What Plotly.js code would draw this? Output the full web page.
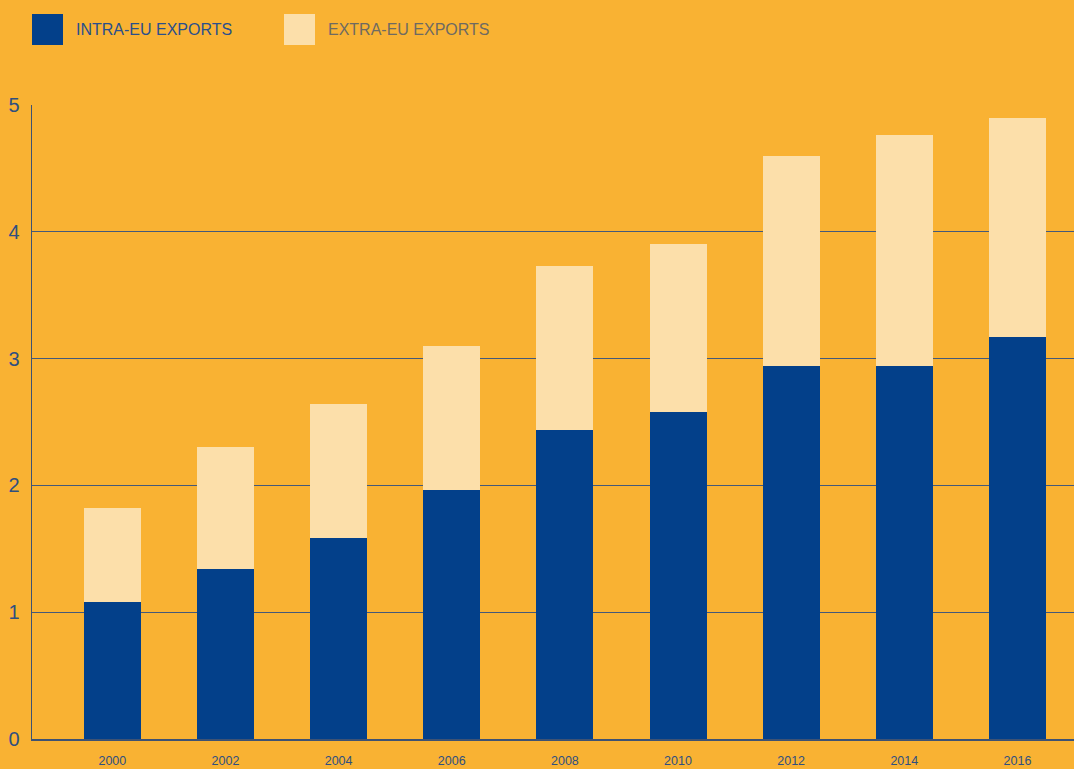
<!DOCTYPE html>
<html>
<head>
<meta charset="utf-8">
<script src="https://cdn.plot.ly/plotly-3.0.1.min.js"></script>
<style>html,body{margin:0;padding:0;background:#F9B233;}#chart{width:1074px;height:769px;}</style>
</head>
<body>
<div id="chart"></div>
<script>
const years = ['2000','2002','2004','2006','2008','2010','2012','2014','2016'];
const intraEU = [1.08, 1.34, 1.585, 1.96, 2.44, 2.58, 2.94, 2.94, 3.17];
const totalExports = [1.82, 2.30, 2.64, 3.10, 3.73, 3.90, 4.60, 4.76, 4.90];
const extraEU = totalExports.map((t, i) => +(t - intraEU[i]).toFixed(3));
const seriesNames = ['INTRA-EU EXPORTS', 'EXTRA-EU EXPORTS'];
const yTicks = [0, 1, 2, 3, 4, 5];

const bg = '#F9B233';
const darkBlue = '#03408A';
const lightCream = '#FCDFAA';

const traces = [
  {type:'bar', x: years, y: intraEU, name: seriesNames[0], marker:{color: darkBlue}, hoverinfo:'y'},
  {type:'bar', x: years, y: extraEU, name: seriesNames[1], marker:{color: lightCream}, hoverinfo:'y'}
];

const layout = {
  width: 1074, height: 769,
  paper_bgcolor: bg, plot_bgcolor: bg,
  margin: {l: 32, r: 0, t: 105, b: 30},
  barmode: 'stack', bargap: 0.496,
  showlegend: false,
  font: {family: 'Liberation Sans, Arial, sans-serif'},
  xaxis: {
    type: 'category', range: [-0.71, 8.5],
    showgrid: false, ticks: '', showline: true, linecolor: '#3e5273', linewidth: 1.5,
    tickfont: {size: 12.5, color: '#2f4f80'}, ticklabelstandoff: 9, fixedrange: true
  },
  yaxis: {
    range: [0, 5], tickvals: yTicks, ticktext: yTicks.map(String),
    showgrid: true, gridcolor: '#44597a', gridwidth: 1,
    zeroline: false, showline: true, linecolor: '#3e5273', linewidth: 1.5,
    ticks: '', tickfont: {size: 20, color: '#2f4f80'}, ticklabelstandoff: 7, fixedrange: true
  },
  shapes: [
    {type:'rect', xref:'paper', yref:'paper', x0: 0, x1: 31/1042, y0: (769-30-45)/(769-135) , y1: (769-30-14)/(769-135), fillcolor: darkBlue, line:{width:0}},
    {type:'rect', xref:'paper', yref:'paper', x0: 252/1042, x1: 283/1042, y0: (769-30-45)/(769-135), y1: (769-30-14)/(769-135), fillcolor: lightCream, line:{width:0}}
  ],
  annotations: [
    {xref:'paper', yref:'paper', x: 42/1042, y: (769-30-29.5)/(769-135), xanchor:'left', yanchor:'middle', showarrow:false, text: seriesNames[0], font:{size:16, color:'#2a4f8c'}},
    {xref:'paper', yref:'paper', x: 294/1042, y: (769-30-29.5)/(769-135), xanchor:'left', yanchor:'middle', showarrow:false, text: seriesNames[1], font:{size:16, color:'#6e6a62'}}
  ]
};

Plotly.newPlot('chart', traces, layout, {displayModeBar: false, staticPlot: true});
</script>
</body>
</html>
